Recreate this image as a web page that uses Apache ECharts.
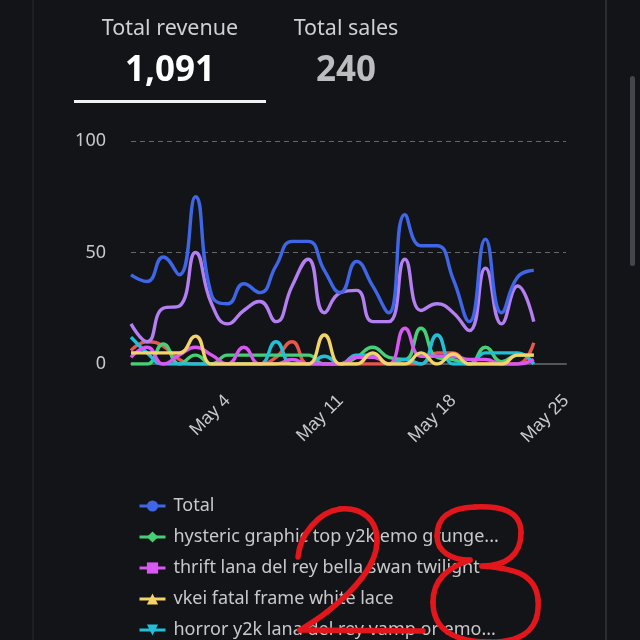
<!DOCTYPE html>
<html>
<head>
<meta charset="utf-8">
<script src="https://cdn.jsdelivr.net/npm/echarts@6/dist/echarts.min.js"></script>
<style>
html,body{margin:0;padding:0;background:#131418;overflow:hidden;}
#chart{width:640px;height:640px;}
</style>
</head>
<body>
<div id="chart"></div>
<script>
// ---- data ----
const dates = ['Apr 28','Apr 29','Apr 30','May 1','May 2','May 3','May 4','May 5','May 6','May 7','May 8','May 9','May 10','May 11','May 12','May 13','May 14','May 15','May 16','May 17','May 18','May 19','May 20','May 21','May 22','May 23','May 24','May 25'];
const shownTickLabels = ['May 4','May 11','May 18','May 25'];
const yTicks = [0, 50, 100];

const seriesNames = ['Total','hysteric graphic top y2k emo grunge...','thrift lana del rey bella swan twilight','vkei fatal frame white lace','horror y2k lana del rey vamp or emo...','Other','More'];

const totalValues   = [40,37,48,40,75,31,27,36,32,44,55,55,42,32,46,35,23,67,53,53,38,19,56,23,39,42];
const hystericValues= [0,0,9,0,4,0,4,4,4,4,4,4,0,0,3,7.5,3,2,16,3,2,0,7.5,1,4,4];
const thriftValues  = [3,7.5,0,4,7.5,4,0,7.5,0,0,2,0,0,0,3,3,0,16,3.5,3.5,3.5,2,2,0,0,2];
const vkeiValues    = [5,5,5,5,12.5,0,0,0,0,0,0,0,13,0,0,5,0,0,5,0,4.5,0,0,0,4,4];
const horrorValues  = [12,5,0,0,0,0,0,0,0,10,0,0,3.5,0,4,4,0,2,0,13,0,0,5,5,5,0];
const otherValues   = [18,10,25,26,50,27,18,24,28,19,35,47,23,32,33,19,19,47,24,27,23,15,43,18,35,19];
const moreValues    = [6,10,8,2,0,0,0,0,0,3,10,0,0,0,0,0,0,0,0,5,5,0,0,0,0,9.5];

const totalRevenue = '1,091';
const totalSales = '240';

// ---- styles ----
const colors = ['#3f66e6','#46cf76','#d957f2','#f3d467','#23bfd8','#b37ff2','#e7574c'];
const symbols = ['circle','diamond','rect','triangle','path://M0,0 L10,0 L5,9 Z','circle','circle'];
const valueSets = [totalValues,hystericValues,thriftValues,vkeiValues,horrorValues,otherValues,moreValues];
const zs = [10,3,4,5,3,8,2];

const chart = echarts.init(document.getElementById('chart'), null, {renderer:'canvas'});

const series = seriesNames.map((n,i)=>({
  name:n, type:'line', data:valueSets[i], smooth:true,
  symbol:symbols[i], symbolSize:12, showSymbol:false,
  lineStyle:{width:3.4,color:colors[i]}, itemStyle:{color:colors[i]},
  z:zs[i]
}));

// handwritten red "28" overlay (decoration, not data)
const redStroke = {stroke:'#e3161c', lineWidth:5.5, fill:null, lineCap:'round', lineJoin:'round'};
const scribble = [
  [298,557,300,535,318,512,340,509],[340,509,362,507,378,520,377,542],
  [377,542,376,568,352,592,327,612],[327,612,314,622,303,628,300,630],
  [470,560,452,560,437,552,437,536],[437,536,437,518,448,508,475,507],
  [475,507,500,506,521,510,521,533],[521,533,521,555,506,566,482,566],
  [482,566,505,568,536,570,538,600],[538,600,540,625,528,642,490,642],
  [490,642,452,642,433,628,433,602],[433,602,433,580,447,568,470,560]
];
const scribbleEls = scribble.map(s=>({
  type:'bezierCurve', z:100,
  shape:{x1:s[0],y1:s[1],cpx1:s[2],cpy1:s[3],cpx2:s[4],cpy2:s[5],x2:s[6],y2:s[7]},
  style:redStroke
}));
scribbleEls.push({type:'line',z:100,shape:{x1:300,y1:630,x2:423,y2:631},style:redStroke});

chart.setOption({
  backgroundColor:'#131418',
  animation:false,
  grid:{left:131,right:74,top:141,bottom:276},
  xAxis:{
    type:'category', data:dates, boundaryGap:false,
    axisTick:{show:false},
    axisLine:{show:true,lineStyle:{color:'#55565b',width:2}},
    axisLabel:{
      interval:(idx,val)=>shownTickLabels.includes(val),
      rotate:45, margin:34, color:'#c9c9cc', fontSize:18,
      fontFamily:'Liberation Sans'
    },
    splitLine:{show:false}
  },
  yAxis:{
    type:'value', min:yTicks[0], max:yTicks[yTicks.length-1], interval:50,
    axisLabel:{color:'#c9c9cc',fontSize:18,margin:25,fontFamily:'Noto Sans'},
    splitLine:{lineStyle:{type:[5,4],color:'#66676b',width:1}},
    axisLine:{show:false}, axisTick:{show:false}
  },
  legend:{
    orient:'vertical', left:133, top:492, height:600, itemGap:13,
    itemWidth:26, itemHeight:14,
    lineStyle:{width:3},
    data:seriesNames,
    textStyle:{color:'#c9c9cc',fontSize:18,fontFamily:'Noto Sans',padding:[0,0,0,3]}
  },
  series:series,
  graphic:[
    {type:'line',shape:{x1:606,y1:0,x2:606,y2:640},style:{stroke:'#35363b',lineWidth:1.5},z:1},
    {type:'line',shape:{x1:33,y1:0,x2:33,y2:640},style:{stroke:'#2a2b30',lineWidth:1},z:1},
    {type:'rect',shape:{x:630,y:76,width:5,height:190,r:2.5},style:{fill:'#45464b'},z:1},
    {type:'text',style:{text:'Total revenue',x:170,y:29,align:'center',verticalAlign:'middle',fill:'#d0d0d3',font:'400 21.5px "Noto Sans"'}},
    {type:'text',style:{text:totalRevenue,x:170,y:71,align:'center',verticalAlign:'middle',fill:'#ffffff',font:'700 35px "Noto Sans"'}},
    {type:'rect',shape:{x:74,y:100,width:192,height:3},style:{fill:'#f2f2f2'}},
    {type:'text',style:{text:'Total sales',x:346,y:29,align:'center',verticalAlign:'middle',fill:'#d0d0d3',font:'400 21.5px "Noto Sans"'}},
    {type:'text',style:{text:totalSales,x:346,y:71,align:'center',verticalAlign:'middle',fill:'#bdbdc0',font:'700 35px "Noto Sans"'}}
  ].concat(scribbleEls)
});
</script>
</body>
</html>
